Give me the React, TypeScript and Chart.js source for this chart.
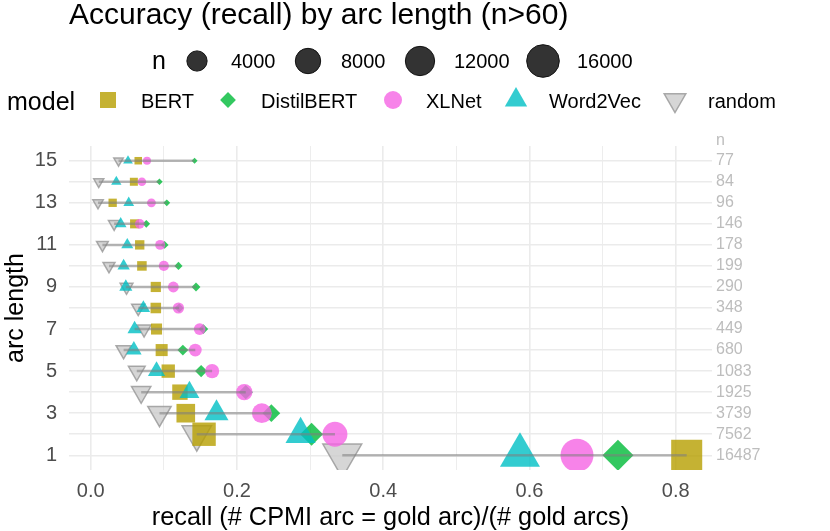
import { useEffect, useRef } from 'react';
import { Chart, registerables } from 'chart.js';

Chart.register(...registerables);

const FONT = "'Liberation Sans', Arial, Helvetica, sans-serif";

// data, indexed by arc length
const arcLength = [1, 2, 3, 4, 5, 6, 7, 8, 9, 10, 11, 12, 13, 14, 15];
const nArcs = [16487, 7562, 3739, 1925, 1083, 680, 449, 348, 290, 199, 178, 146, 96, 84, 77];

const bert = [0.815, 0.155, 0.13, 0.122, 0.106, 0.097, 0.09, 0.089, 0.089, 0.07, 0.067, 0.06, 0.03, 0.059, 0.065];
const distilbert = [0.721, 0.302, 0.247, 0.212, 0.151, 0.126, 0.154, 0.121, 0.144, 0.12, 0.101, 0.076, 0.104, 0.094, 0.142];
const xlnet = [0.665, 0.334, 0.234, 0.21, 0.166, 0.143, 0.149, 0.12, 0.113, 0.1, 0.095, 0.067, 0.083, 0.07, 0.077];
const word2vec = [0.587, 0.287, 0.172, 0.135, 0.09, 0.059, 0.06, 0.072, 0.048, 0.045, 0.05, 0.041, 0.052, 0.035, 0.051];
const randomBaseline = [0.344, 0.145, 0.094, 0.069, 0.063, 0.045, 0.073, 0.065, 0.049, 0.025, 0.016, 0.032, 0.01, 0.011, 0.038];

const xTicks = [0, 0.1, 0.2, 0.3, 0.4, 0.5, 0.6, 0.7, 0.8];
const sizeBreaks = [4000, 8000, 12000, 16000];

// marker diameter grows with sqrt of n (like ggplot's scale_size)
const nMin = Math.min(...nArcs);
const nMax = Math.max(...nArcs);
const diam = (n: number) => 8 + 25 * Math.sqrt(Math.max(0, n - nMin) / (nMax - nMin));

type Model = {
  label: string;
  values: number[];
  fill: string;
  stroke: string;
  borderWidth: number;
  style: string;
  rotation: number;
  radius: (d: number) => number;
  order: number;
  legendR: number;
};

const models: Model[] = [
  { label: 'BERT', values: bert, fill: 'rgba(183,159,0,0.8)', stroke: 'rgba(183,159,0,0.8)', borderWidth: 0,
    style: 'rect', rotation: 0, radius: (d) => 0.665 * d, order: 4, legendR: 11.3 },
  { label: 'DistilBERT', values: distilbert, fill: 'rgba(0,186,56,0.8)', stroke: 'rgba(0,186,56,0.8)', borderWidth: 0,
    style: 'rectRot', rotation: 0, radius: (d) => 0.5 * d - 1, order: 3, legendR: 7.9 },
  { label: 'XLNet', values: xlnet, fill: 'rgba(245,100,227,0.8)', stroke: 'rgba(245,100,227,0.8)', borderWidth: 0,
    style: 'circle', rotation: 0, radius: (d) => d / 2, order: 1, legendR: 9 },
  { label: 'Word2Vec', values: word2vec, fill: 'rgba(0,191,196,0.8)', stroke: 'rgba(0,191,196,0.8)', borderWidth: 0,
    style: 'triangle', rotation: 0, radius: (d) => 0.7 * d, order: 2, legendR: 12.9 },
  { label: 'random', values: randomBaseline, fill: 'rgba(204,204,204,0.8)', stroke: 'rgba(150,150,150,0.8)', borderWidth: 1.5,
    style: 'triangle', rotation: 180, radius: (d) => 0.68 * d, order: 5, legendR: 12.5 },
];

// legend layout (pixels)
const sizeKeyX = [197, 308, 420, 543];
const sizeLabelX = [231, 341, 454, 577];
const modelKeyX = [108, 228, 393, 516, 675];
const modelLabelX = [141, 261, 426, 549, 708];

function drawShape(ctx: CanvasRenderingContext2D, style: string, x: number, y: number, r: number, rot: number) {
  ctx.beginPath();
  if (style === 'circle') {
    ctx.arc(x, y, r, 0, Math.PI * 2);
  } else if (style === 'rect') {
    const s = Math.SQRT1_2 * r;
    ctx.rect(x - s, y - s, 2 * s, 2 * s);
  } else if (style === 'rectRot') {
    ctx.moveTo(x, y - r);
    ctx.lineTo(x + r, y);
    ctx.lineTo(x, y + r);
    ctx.lineTo(x - r, y);
    ctx.closePath();
  } else {
    const a = (rot * Math.PI) / 180;
    for (let k = 0; k < 3; k++) {
      const t = a + (k * 2 * Math.PI) / 3;
      const px = x + Math.sin(t) * r;
      const py = y - Math.cos(t) * r;
      if (k === 0) ctx.moveTo(px, py);
      else ctx.lineTo(px, py);
    }
    ctx.closePath();
  }
}

const legendPlugin = {
  id: 'ggLegend',
  afterDraw(chart: any) {
    const ctx: CanvasRenderingContext2D = chart.ctx;
    ctx.save();
    ctx.textAlign = 'left';
    ctx.textBaseline = 'alphabetic';
    ctx.fillStyle = '#000';
    ctx.font = `30px ${FONT}`;
    ctx.fillText('Accuracy (recall) by arc length (n>60)', 69, 24);

    ctx.font = `25px ${FONT}`;
    ctx.fillText('n', 152, 69);
    ctx.fillText('model', 7, 110);

    ctx.font = `20px ${FONT}`;
    sizeBreaks.forEach((b, i) => {
      drawShape(ctx, 'circle', sizeKeyX[i], 61, diam(b) / 2, 0);
      ctx.fillStyle = 'rgba(51,51,51,1)';
      ctx.fill();
      ctx.strokeStyle = '#111';
      ctx.lineWidth = 1;
      ctx.stroke();
      ctx.fillStyle = '#000';
      ctx.fillText(String(b), sizeLabelX[i], 67.5);
    });

    models.forEach((m, i) => {
      drawShape(ctx, m.style, modelKeyX[i], 100, m.legendR, m.rotation);
      ctx.fillStyle = m.fill;
      ctx.fill();
      if (m.borderWidth > 0) {
        ctx.strokeStyle = m.stroke;
        ctx.lineWidth = m.borderWidth;
        ctx.stroke();
      }
      ctx.fillStyle = '#000';
      ctx.fillText(m.label, modelLabelX[i], 107.5);
    });

    // header of the secondary axis
    ctx.fillStyle = '#BDBDBD';
    ctx.font = `16px ${FONT}`;
    ctx.fillText('n', chart.chartArea.right + 4, 145);
    ctx.restore();
  },
};

export default function App() {
  const canvasRef = useRef<HTMLCanvasElement | null>(null);

  useEffect(() => {
    if (!canvasRef.current) return;

    const segments = arcLength.map((len, i) => {
      const xs = models.map((m) => m.values[i]);
      return {
        label: `seg${len}`,
        data: [
          { x: Math.min(...xs), y: len },
          { x: Math.max(...xs), y: len },
        ],
        showLine: true,
        borderColor: 'rgba(128,128,128,0.55)',
        borderWidth: 2.5,
        pointRadius: 0,
        order: 0,
      };
    });

    const points = models.map((m) => ({
      label: m.label,
      data: arcLength.map((len, i) => ({ x: m.values[i], y: len })),
      pointStyle: m.style,
      rotation: m.rotation,
      pointRadius: nArcs.map((n) => m.radius(diam(n))),
      backgroundColor: m.fill,
      borderColor: m.stroke,
      borderWidth: m.borderWidth,
      order: m.order,
    }));

    const chart = new Chart(canvasRef.current, {
      type: 'scatter',
      data: { datasets: [...segments, ...points] as any },
      options: {
        responsive: false,
        animation: false,
        events: [],
        layout: { padding: { top: 146, left: 0, right: 0, bottom: 0 } },
        plugins: {
          legend: { display: false },
          tooltip: { enabled: false },
          title: { display: false },
        },
        scales: {
          x: {
            type: 'linear',
            position: 'bottom',
            min: -0.0297,
            max: 0.8496,
            afterBuildTicks: (s: any) => {
              s.ticks = xTicks.map((v) => ({ value: v }));
            },
            afterFit: (s: any) => {
              s.height = 61;
            },
            border: { display: false },
            grid: {
              drawTicks: false,
              color: '#EBEBEB',
              lineWidth: (c: any) => (Math.round(c.tick.value * 10) % 2 === 0 ? 1.6 : 0.9),
            },
            ticks: {
              autoSkip: false,
              maxRotation: 0,
              padding: 9,
              color: '#4D4D4D',
              font: { family: FONT, size: 20 },
              callback: (v: any) => (Math.round(Number(v) * 10) % 2 === 0 ? Number(v).toFixed(1) : ''),
            },
            title: {
              display: true,
              text: 'recall (# CPMI arc = gold arc)/(# gold arcs)',
              color: '#000',
              font: { family: FONT, size: 25.3, lineHeight: 1 },
              padding: { top: 0, bottom: 0 },
            },
          },
          y: {
            type: 'linear',
            position: 'left',
            min: 0.3,
            max: 15.7,
            afterBuildTicks: (s: any) => {
              s.ticks = arcLength.map((v) => ({ value: v }));
            },
            afterFit: (s: any) => {
              s.width = 69;
            },
            border: { display: false },
            grid: { drawTicks: false, color: '#EBEBEB', lineWidth: 1.5 },
            ticks: {
              autoSkip: false,
              padding: 12,
              color: '#4D4D4D',
              font: { family: FONT, size: 20 },
              callback: (v: any) => (Number(v) % 2 === 1 ? String(v) : ''),
            },
            title: {
              display: true,
              text: 'arc length',
              color: '#000',
              font: { family: FONT, size: 25, lineHeight: 1 },
              padding: { top: 4, bottom: 0 },
            },
          },
          y2: {
            type: 'linear',
            position: 'right',
            min: 0.3,
            max: 15.7,
            afterBuildTicks: (s: any) => {
              s.ticks = arcLength.map((v) => ({ value: v }));
            },
            afterFit: (s: any) => {
              s.width = 118;
            },
            border: { display: false },
            grid: { display: false, drawTicks: false },
            ticks: {
              autoSkip: false,
              padding: 4,
              color: '#BDBDBD',
              font: { family: FONT, size: 16 },
              callback: (v: any) => String(nArcs[arcLength.indexOf(Number(v))]),
            },
          },
        },
      } as any,
      plugins: [legendPlugin],
    });

    return () => {
      chart.destroy();
    };
  }, []);

  return (
    <div style={{ position: 'absolute', left: 0, top: 0, width: 830, height: 531, background: '#fff' }}>
      <canvas ref={canvasRef} width={830} height={531} style={{ display: 'block', width: 830, height: 531 }} />
    </div>
  );
}
